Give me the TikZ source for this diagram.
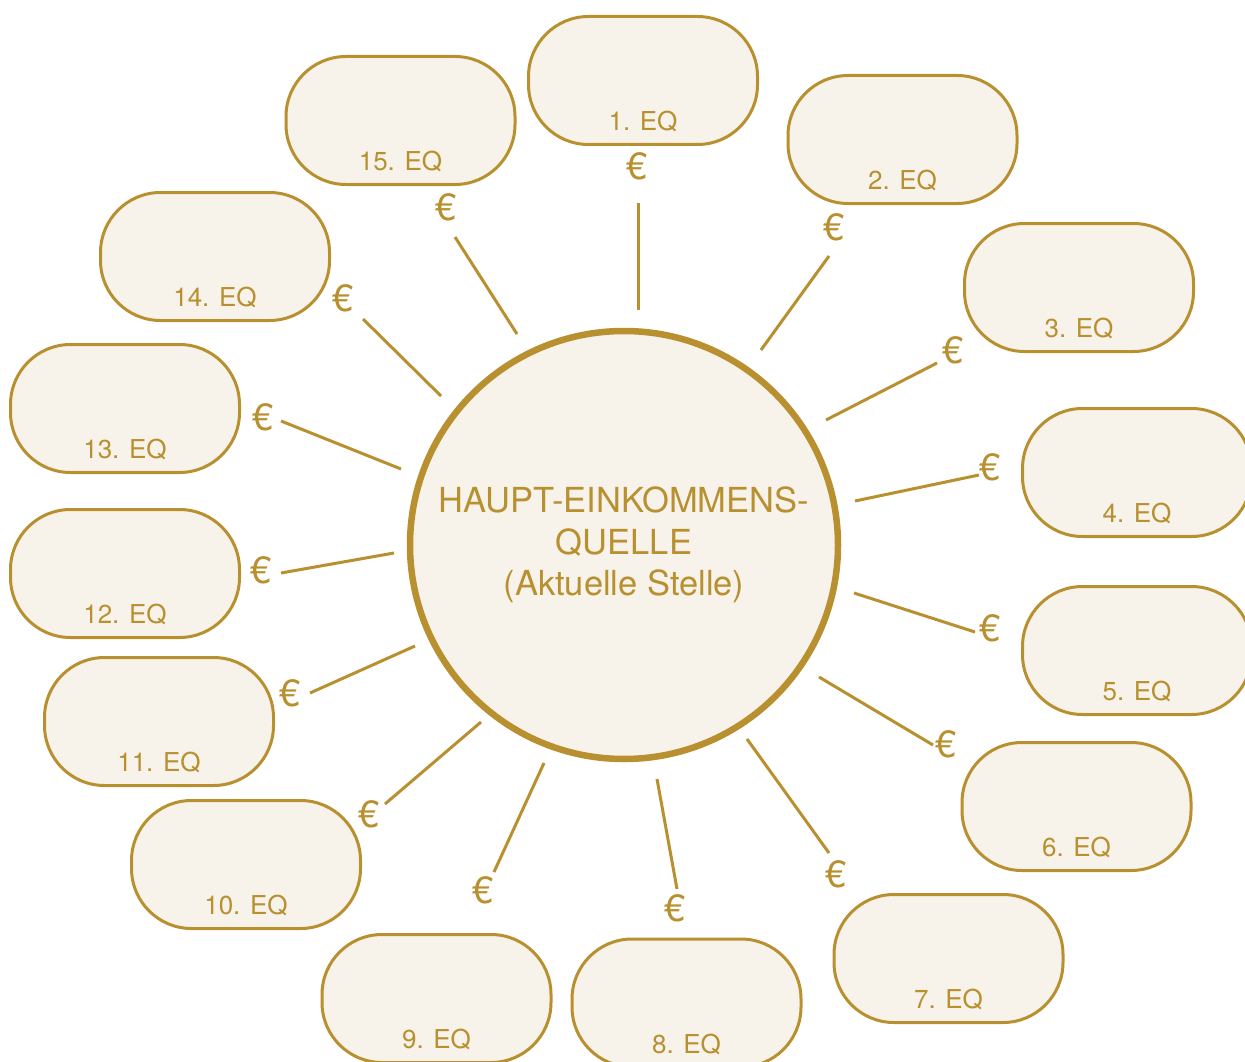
\documentclass[tikz,border=0pt]{standalone}
\usepackage{fontspec}
\setmainfont{TeX Gyre Heros}
\definecolor{gold}{HTML}{B8902F}
\definecolor{cream}{HTML}{F7F3EB}
\begin{document}
\begin{tikzpicture}[x=1pt,y=-1pt,
  eqbox/.style={draw=gold, fill=cream, line width=3pt, rounded corners=60pt,
    minimum width=229pt, minimum height=128pt, inner sep=0pt},
  eqlabel/.style={text=gold, font=\fontsize{26}{30}\selectfont, anchor=base, inner sep=0pt},
  euro/.style={text=gold, font=\fontsize{38}{40}\selectfont, inner sep=0pt},
  conn/.style={draw=gold, line width=3pt},
  hub/.style={circle, draw=gold, fill=cream, line width=6.5pt, minimum size=428pt,
    inner sep=0pt, align=center, text=gold, font=\fontsize{34.5}{41.5}\selectfont}]
\useasboundingbox (0,0) rectangle (1245,1062);

% central node
\node[hub] (hub) at (624,545) {HAUPT-EINKOMMENS-\\QUELLE\\(Aktuelle Stelle)};

% boxes
\foreach \i/\x/\y in {1/643/80.5, 2/902.5/139.5, 3/1079/287.5, 4/1137/472.5,
  5/1137/650.5, 6/1076.5/806.5, 7/948.5/958.5, 8/686.5/1003, 9/436.5/998.5,
  10/246/864.5, 11/159/721.5, 12/125/573.5, 13/125/408.5, 14/215/256.5, 15/400.5/120.5}{
  \node[eqbox] (b\i) at (\x,\y) {};
  \node[eqlabel] (l\i) at ([yshift=15.5pt]b\i.south) {\i. EQ};
}

% euro signs and connectors
\foreach \i/\ex/\ey/\ax/\ay/\bx/\by in {
  1/637/166/638/203/638/310,
  2/834/227/829/256/761/350,
  3/953/350/937/363/826/420,
  4/990/467/979/475/855/501,
  5/990/628/975/632/854/593,
  6/946/744/933/745/819/677,
  7/836/874/829/853/747/739,
  8/675/908/677/889/657/779,
  9/483/890/494/872/544/763,
  10/369/814/385/804/481/722,
  11/290/693/310/693/415/646,
  12/261/570/281/573/394/553,
  13/263/417/281/421/401/469,
  14/343/298/363/319/441/396,
  15/446/207/455/237/517/334}{
  \node[euro] (e\i) at (\ex,\ey) {€};
  \coordinate (p\i) at (\ax,\ay);
  \coordinate (q\i) at (\bx,\by);
  \draw[conn] (p\i) -- (q\i);
}
\end{tikzpicture}
\end{document}
